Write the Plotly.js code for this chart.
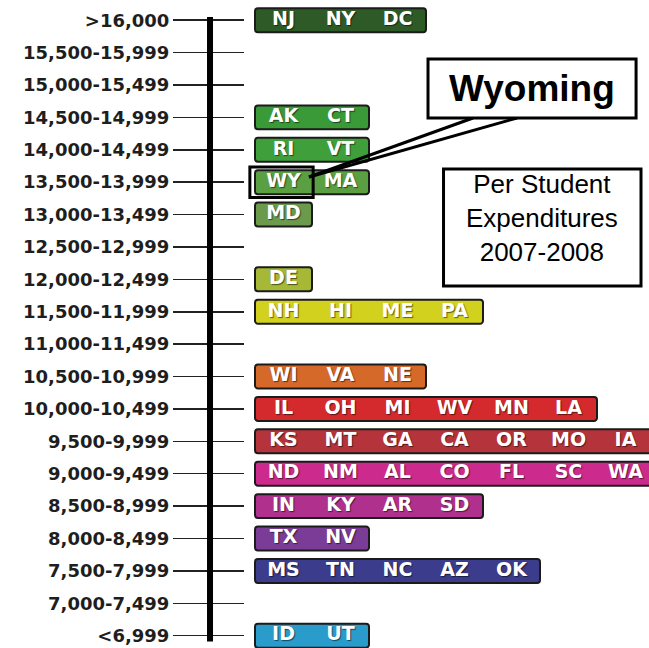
<!DOCTYPE html>
<html>
<head>
<meta charset="utf-8">
<script src="https://cdn.plot.ly/plotly-3.0.1.min.js"></script>
<style>html,body{margin:0;padding:0;background:#fff;}#chart{width:649px;height:648px;}</style>
</head>
<body>
<div id="chart"></div>
<script>
// ---- data ----
var ranges = [">16,000","15,500-15,999","15,000-15,499","14,500-14,999","14,000-14,499",
  "13,500-13,999","13,000-13,499","12,500-12,999","12,000-12,499","11,500-11,999",
  "11,000-11,499","10,500-10,999","10,000-10,499","9,500-9,999","9,000-9,499",
  "8,500-8,999","8,000-8,499","7,500-7,999","7,000-7,499","<6,999"];
var states = [
  ["NJ","NY","DC"], [], [], ["AK","CT"], ["RI","VT"],
  ["WY","MA"], ["MD"], [], ["DE"], ["NH","HI","ME","PA"],
  [], ["WI","VA","NE"], ["IL","OH","MI","WV","MN","LA"], ["KS","MT","GA","CA","OR","MO","IA"], ["ND","NM","AL","CO","FL","SC","WA"],
  ["IN","KY","AR","SD"], ["TX","NV"], ["MS","TN","NC","AZ","OK"], [], ["ID","UT"]
];
var rowColors = [
  "#2e5a28", null, null, "#3a9a38", "#3fa03b",
  "#5aa042", "#6b9a4c", null, "#a6b835", "#d2d21e",
  null, "#d4692a", "#d42a2e", "#b5343b", "#cc2a8c",
  "#b0308e", "#7a3c96", "#3c3c8c", null, "#2a9ccc"
];
var highlightState = "WY";
var calloutTitle = "Wyoming";
var chartTitle = "Per Student<br>Expenditures<br>2007-2008";

// ---- build traces ----
var barY = [], barX = [], barC = [];
var txtX = [], txtY = [], txtT = [];
var hlRow = -1;
states.forEach(function(list, r){
  if (list.length) { barY.push(r); barX.push(list.length); barC.push(rowColors[r]); }
  list.forEach(function(s, i){
    txtX.push(i + 0.5); txtY.push(r); txtT.push(s);
    if (s === highlightState) hlRow = r;
  });
});
var rowIdx = ranges.map(function(_, i){ return i; });

var bars = {
  type: "bar", orientation: "h", x: barX, y: barY, base: 0,
  width: 0.74,
  marker: { color: barC, line: { color: "#1b1b1b", width: 2 }, cornerradius: 3 },
  hoverinfo: "skip", showlegend: false
};
var labels = {
  type: "scatter", mode: "text", x: txtX, y: txtY, text: txtT,
  textposition: "middle center",
  textfont: { family: "DejaVu Sans", size: 19, color: "#ffffff", weight: "bold", shadow: "1px 1px 1px rgba(0,0,0,0.55)" },
  hoverinfo: "skip", showlegend: false, cliponaxis: false
};

var unitPx = 57, plotW = 404, startPx = 10;
var xmin = -startPx / unitPx, xmax = xmin + plotW / unitPx;

var layout = {
  width: 649, height: 648,
  margin: { l: 245, r: 0, t: 4, b: 0, pad: 0 },
  paper_bgcolor: "#ffffff", plot_bgcolor: "#ffffff",
  xaxis: { visible: false, range: [xmin, xmax], fixedrange: true },
  yaxis: {
    range: [19.38, -0.5], tickmode: "array", tickvals: rowIdx, ticktext: ranges,
    ticks: "outside", ticklen: 71, tickwidth: 1.5, tickcolor: "#222",
    showgrid: false, zeroline: false, showline: false,
    tickfont: { family: "DejaVu Sans", size: 18, color: "#1e1e1e", weight: "bold" },
    fixedrange: true
  },
  shapes: [
    // thick spine
    { type: "line", xref: "paper", yref: "y", x0: -0.0866, x1: -0.0866, y0: -0.1, y1: 19.18,
      line: { color: "#000", width: 6 } },
    // highlight box around WY
    { type: "rect", xref: "x", yref: "y", x0: -0.09, x1: 1.02, y0: hlRow - 0.47, y1: hlRow + 0.47,
      line: { color: "#000", width: 3 }, fillcolor: "rgba(0,0,0,0)" },
    // callout pointer
    { type: "line", xref: "paper", yref: "paper", x0: 0.1584, y0: 0.7314, x1: 0.5644, y1: 0.823,
      line: { color: "#000", width: 3 } },
    { type: "line", xref: "paper", yref: "paper", x0: 0.1584, y0: 0.7314, x1: 0.6733, y1: 0.823,
      line: { color: "#000", width: 3 } },
    // Wyoming box
    { type: "rect", xref: "paper", yref: "paper", x0: 0.453, x1: 0.968, y0: 0.823, y1: 0.9146,
      line: { color: "#000", width: 3 }, fillcolor: "#ffffff" },
    // Title box
    { type: "rect", xref: "paper", yref: "paper", x0: 0.4914, x1: 0.9802, y0: 0.5621, y1: 0.7438,
      line: { color: "#000", width: 3 }, fillcolor: "#ffffff" }
  ],
  annotations: [
    { xref: "paper", yref: "paper", x: 0.7104, y: 0.8688, xanchor: "center", yanchor: "middle",
      text: calloutTitle, showarrow: false,
      font: { family: "Liberation Sans", size: 37, color: "#000", weight: "bold" } },
    { xref: "paper", yref: "paper", x: 0.7358, y: 0.6677, xanchor: "center", yanchor: "middle",
      text: chartTitle, showarrow: false,
      font: { family: "Liberation Sans", size: 26, color: "#000" } }
  ]
};

Plotly.newPlot("chart", [bars, labels], layout, { displayModeBar: false, staticPlot: true });
</script>
</body>
</html>
